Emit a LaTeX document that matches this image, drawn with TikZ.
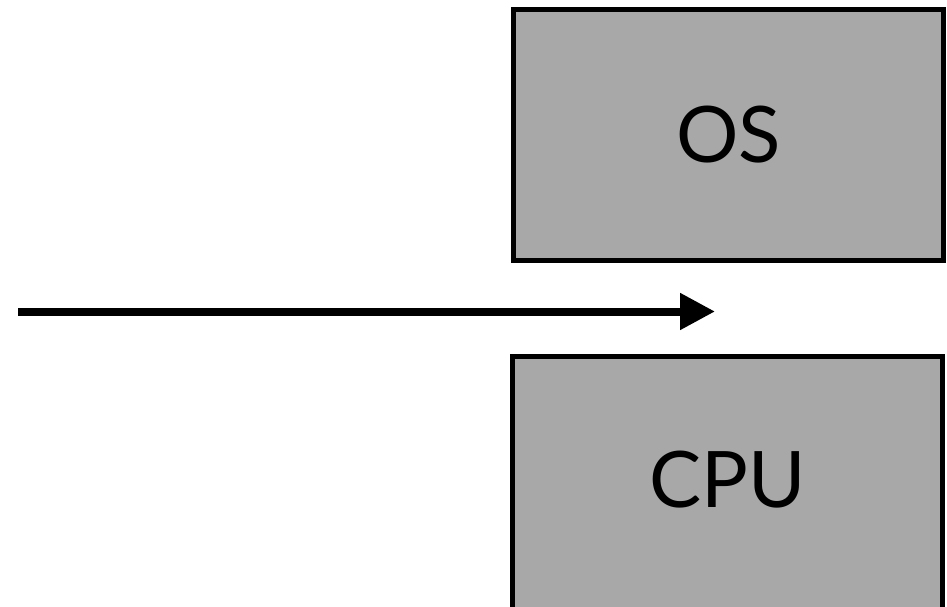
\documentclass[tikz,border=0pt]{standalone}
\usepackage{fontspec}
\setmainfont{Lato}
\usetikzlibrary{arrows.meta}
\definecolor{boxgray}{HTML}{A8A8A8}
\tikzset{
  unitbox/.style={draw=black, line width=5pt, fill=boxgray, minimum width=430pt, inner sep=0pt,
    font=\fontsize{78}{80}\selectfont},
  flowarrow/.style={line width=8pt, -{Triangle[length=35pt,width=35pt]}}
}
\begin{document}
\begin{tikzpicture}[x=1pt,y=1pt]
\useasboundingbox (0,0) rectangle (947,606);
\clip (0,0) rectangle (947,606);
\node[unitbox, minimum height=251pt] (os) at (728.5,471) {OS};
\node[unitbox, minimum height=253.5pt, text depth=0pt] (cpuframe) at (727.5,122.75) {};
\node[font=\fontsize{78}{80}\selectfont, inner sep=0pt] (cpu) at (727.5,126) {CPU};
\coordinate (start) at (18,294.5);
\coordinate (tip) at (715,294.5);
\draw[flowarrow] (start) -- (tip);
\end{tikzpicture}
\end{document}
